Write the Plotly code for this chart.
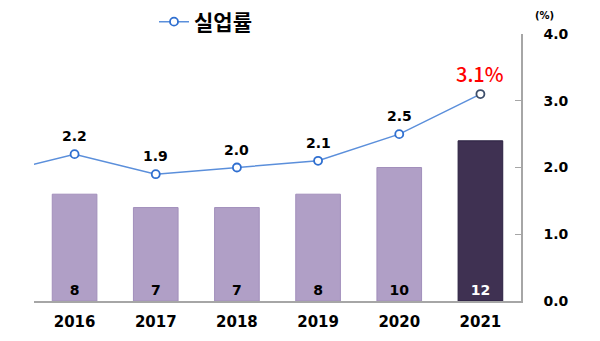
import plotly.graph_objects as go

# Unemployment data by year
years = [2016, 2017, 2018, 2019, 2020, 2021]
year_labels = ["2016", "2017", "2018", "2019", "2020", "2021"]
counts = [8, 7, 7, 8, 10, 12]                 # bars (left, hidden axis)
rate_years = [2015, 2016, 2017, 2018, 2019, 2020, 2021]
rates = [1.9, 2.2, 1.9, 2.0, 2.1, 2.5, 3.1]   # 실업률 (%), right axis
rate_labels = ["", "2.2", "1.9", "2.0", "2.1", "2.5", "3.1%"]

LIGHT = "#B09FC6"
DARK = "#3F3152"
LINE = "#5B8FDB"
NUM_FONT = "DejaVu Sans"
KR_FONT = "Noto Sans CJK KR"

bar_colors = [LIGHT] * (len(counts) - 1) + [DARK]
bar_lines = ["#A28FBB"] * (len(counts) - 1) + ["#2A2040"]
bar_text_colors = ["black"] * (len(counts) - 1) + ["white"]

fig = go.Figure()

fig.add_trace(go.Bar(
    x=years, y=counts, width=0.55,
    marker=dict(color=bar_colors, line=dict(color=bar_lines, width=1)),
    text=[str(c) for c in counts],
    textposition="inside", insidetextanchor="start",
    textfont=dict(family=NUM_FONT, size=14, weight="bold", color=bar_text_colors),
    showlegend=False, yaxis="y", hoverinfo="skip",
))

marker_lines = ["#2F6FD0"] * (len(rates) - 1) + ["#3D4E6B"]
fig.add_trace(go.Scatter(
    x=rate_years, y=rates, mode="lines+markers", name="실업률",
    line=dict(color=LINE, width=1.5),
    marker=dict(symbol="circle", size=8, color="white",
                line=dict(color=marker_lines, width=1.8)),
    yaxis="y2", cliponaxis=True,
))

# value labels above the rate points
for yr, v, lab in zip(rate_years, rates, rate_labels):
    if not lab:
        continue
    last = lab.endswith("%")
    fig.add_annotation(
        x=yr, y=v, xref="x", yref="y2", text=lab, showarrow=False,
        yshift=21 if last else 18,
        font=dict(family=KR_FONT if last else NUM_FONT,
                  size=20 if last else 14,
                  weight=500 if last else "bold",
                  color="#FF0000" if last else "black"),
    )

# unit label above the right axis
fig.add_annotation(
    x=1.0 + 12 / 487, y=1.0 + 19 / 267, xref="paper", yref="paper",
    text="(%)", showarrow=False, xanchor="left", yanchor="middle",
    font=dict(family=NUM_FONT, size=10, weight="bold", color="black"),
)

fig.update_layout(
    width=600, height=341,
    margin=dict(l=34, r=79, t=34, b=40, autoexpand=False),
    paper_bgcolor="white", plot_bgcolor="white",
    xaxis=dict(
        range=[2015.5, 2021.5], tickvals=years, ticktext=year_labels,
        showgrid=False, zeroline=False,
        showline=True, linecolor="#A6A6A6", linewidth=1.5,
        ticks="outside", ticklen=6, tickcolor="rgba(0,0,0,0)",
        tickfont=dict(family=NUM_FONT, size=15, weight="bold", color="black"),
    ),
    yaxis=dict(range=[0, 20], visible=False, showgrid=False),
    yaxis2=dict(
        range=[0, 4], dtick=1, tickformat=".1f", side="right", overlaying="y",
        showgrid=False, zeroline=False,
        showline=True, linecolor="#A6A6A6", linewidth=1.5,
        ticks="inside", ticklen=6, tickcolor="#A6A6A6",
        ticklabelstandoff=18,
        tickfont=dict(family=NUM_FONT, size=14, weight="bold", color="black"),
    ),
    legend=dict(
        orientation="h", x=(154 - 34) / 487, y=1.0 + 12 / 267,
        xanchor="left", yanchor="middle",
        font=dict(family=KR_FONT, size=21, weight="bold", color="black"),
        bgcolor="rgba(0,0,0,0)",
    ),
    showlegend=True,
)

fig.write_html("out.html")
